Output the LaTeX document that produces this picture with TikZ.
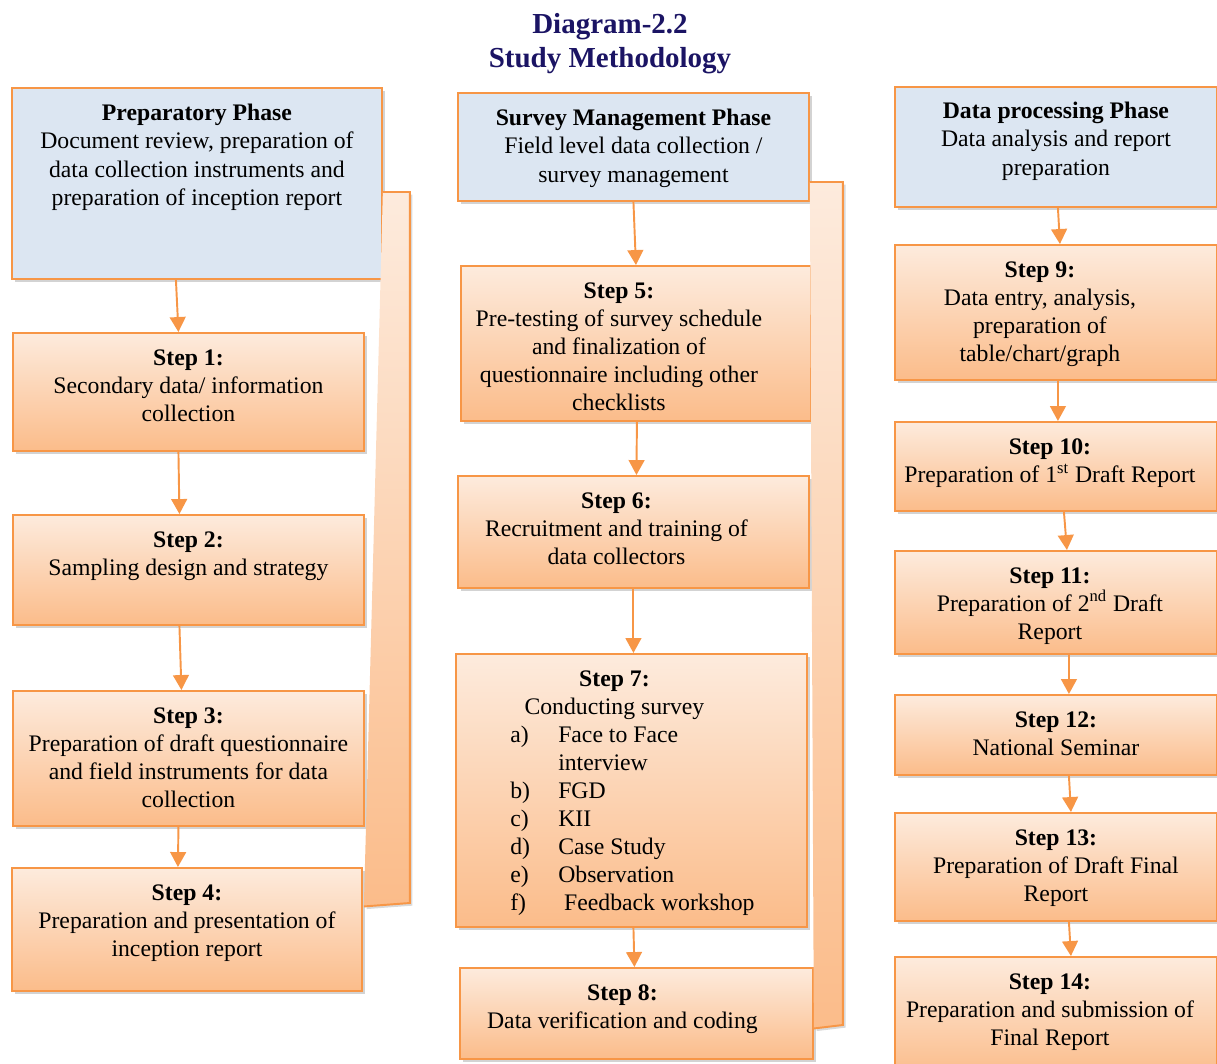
\documentclass[tikz,border=0pt]{standalone}
\usepackage{fontspec}
\setmainfont{Liberation Serif}
\usetikzlibrary{arrows.meta, calc, shadows}

\definecolor{accent}{HTML}{F79646}
\definecolor{steptop}{HTML}{FDEBDD}
\definecolor{stepbottom}{HTML}{FBBC8A}
\definecolor{phasefill}{HTML}{DCE6F2}
\definecolor{titleblue}{HTML}{1B1464}

\begin{document}
\begin{tikzpicture}[
    x=0.02cm, y=-0.02cm,
    % Node styles
    phasebox/.style={
        rectangle,
        draw=accent,
        line width=1.1pt,
        fill=phasefill,
        anchor=north west,
        inner sep=0pt,
        drop shadow={shadow xshift=1.5pt, shadow yshift=-1.5pt, opacity=0.35}
    },
    stepbox/.style={
        rectangle,
        draw=accent,
        line width=1.1pt,
        top color=steptop,
        bottom color=stepbottom,
        anchor=north west,
        inner sep=0pt,
        drop shadow={shadow xshift=1.5pt, shadow yshift=-1.5pt, opacity=0.35}
    },
    boxtext/.style={
        anchor=north,
        inner sep=0pt,
        align=center,
        font=\fontsize{13.5}{16}\selectfont
    },
    titletext/.style={
        align=center,
        text=titleblue,
        font=\fontsize{16.5}{19.5}\selectfont\bfseries
    },
    flow/.style={
        -{Triangle[width=9pt, length=8.5pt]},
        line width=1.1pt,
        accent
    },
    bracket/.style={
        top color=steptop,
        bottom color=stepbottom,
        drop shadow={shadow xshift=1.5pt, shadow yshift=-1.5pt, opacity=0.3}
    },
    bracketline/.style={
        draw=accent,
        line width=1.1pt,
        line join=miter
    }
]
\useasboundingbox (0,0) rectangle (1217,1064);

% === Title ===
\node[titletext] (title) at (610,44) {Diagram-2.2\\Study Methodology};

% === Preparatory Phase (Left) ===
\node[phasebox, minimum width=7.40cm, minimum height=3.82cm] (p1) at (11,87) {};
\node[boxtext] (pt1) at ($(p1.north)+(0,17)$) {\textbf{Preparatory Phase}\\Document review, preparation of\\data collection instruments and\\preparation of inception report};

\node[stepbox, minimum width=7.02cm, minimum height=2.36cm] (s1) at (12,332) {};
\node[boxtext] (t1) at ($(s1.north)+(0,17)$) {\textbf{Step 1:}\\Secondary data/ information\\collection};

\node[stepbox, minimum width=7.02cm, minimum height=2.20cm] (s2) at (12,514) {};
\node[boxtext] (t2) at ($(s2.north)+(0,17)$) {\textbf{Step 2:}\\Sampling design and strategy};

\node[stepbox, minimum width=7.02cm, minimum height=2.70cm] (s3) at (12,690) {};
\node[boxtext] (t3) at ($(s3.north)+(0,17)$) {\textbf{Step 3:}\\Preparation of draft questionnaire\\and field instruments for data\\collection};

\node[stepbox, minimum width=7.00cm, minimum height=2.46cm] (s4) at (11,867) {};
\node[boxtext] (t4) at ($(s4.north)+(0,17)$) {\textbf{Step 4:}\\Preparation and presentation of\\inception report};

% === Survey Management Phase (Center) ===
\node[phasebox, minimum width=7.02cm, minimum height=2.16cm] (p2) at (457,92) {};
\node[boxtext] (pt2) at ($(p2.north)+(0,17)$) {\textbf{Survey Management Phase}\\Field level data collection /\\survey management};

\node[stepbox, minimum width=7.00cm, minimum height=3.10cm] (s5) at (460,265) {};
\node[boxtext] (t5) at ($(s5.north)+(-17,17)$) {\textbf{Step 5:}\\Pre-testing of survey schedule\\and finalization of\\questionnaire including other\\checklists};

\node[stepbox, minimum width=7.02cm, minimum height=2.24cm] (s6) at (457,475) {};
\node[boxtext] (t6) at ($(s6.north)+(-17,17)$) {\textbf{Step 6:}\\Recruitment and training of\\data collectors};

\node[stepbox, minimum width=7.02cm, minimum height=5.46cm] (s7) at (455,653) {};
\node[boxtext] (t7) at ($(s7.north)+(-17,17)$) {\textbf{Step 7:}\\Conducting survey\\
    \hspace*{0.72cm}\begin{tabular}[t]{@{}p{0.96cm}@{}l@{}}
    a) & Face to Face\\
       & interview\\
    b) & FGD\\
    c) & KII\\
    d) & Case Study\\
    e) & Observation\\
    f) & \ Feedback workshop
    \end{tabular}};

\node[stepbox, minimum width=7.06cm, minimum height=1.82cm] (s8) at (459,967) {};
\node[boxtext] (t8) at ($(s8.north)+(-14,17)$) {\textbf{Step 8:}\\Data verification and coding};

% === Data processing Phase (Right) ===
\node[phasebox, minimum width=6.44cm, minimum height=2.40cm] (p3) at (894,86) {};
\node[boxtext] (pt3) at ($(p3.north)+(0,16)$) {\textbf{Data processing Phase}\\Data analysis and report\\preparation};

\node[stepbox, minimum width=6.44cm, minimum height=2.70cm] (s9) at (894,244) {};
\node[boxtext] (t9) at ($(s9.north)+(-16,17)$) {\textbf{Step 9:}\\Data entry, analysis,\\preparation of\\table/chart/graph};

\node[stepbox, minimum width=6.44cm, minimum height=1.78cm] (s10) at (894,421) {};
\node[boxtext] (t10) at ($(s10.north)+(-6,17)$) {\textbf{Step 10:}\\Preparation of 1\textsuperscript{st} Draft Report};

\node[stepbox, minimum width=6.44cm, minimum height=2.06cm] (s11) at (894,550) {};
\node[boxtext] (t11) at ($(s11.north)+(-6,17)$) {\textbf{Step 11:}\\Preparation of 2\textsuperscript{nd} Draft\\Report};

\node[stepbox, minimum width=6.44cm, minimum height=1.60cm] (s12) at (894,694) {};
\node[boxtext] (t12) at ($(s12.north)+(0,17)$) {\textbf{Step 12:}\\National Seminar};

\node[stepbox, minimum width=6.44cm, minimum height=2.16cm] (s13) at (894,812) {};
\node[boxtext] (t13) at ($(s13.north)+(0,17)$) {\textbf{Step 13:}\\Preparation of Draft Final\\Report};

\node[stepbox, minimum width=6.44cm, minimum height=2.40cm] (s14) at (894,956) {};
\node[boxtext] (t14) at ($(s14.north)+(-6,17)$) {\textbf{Step 14:}\\Preparation and submission of\\Final Report};

% === Brackets: phase to last step ===
\path[bracket] ($(p1.north east)+(0,105)$) -- ++(27,0) -- ++(0,711) -- ($(s4.east)+(1,-23)$) -- cycle;
\draw[bracketline] ($(p1.north east)+(0,105)$) -- ++(27,0) -- ++(0,711) -- ($(s4.east)+(1,-23)$);

\path[bracket] ($(p2.north east)+(0,90)$) -- ++(33,0) -- ++(0,843) -- ($(s8.east)+(0,15)$) -- cycle;
\draw[bracketline] ($(p2.north east)+(0,90)$) -- ++(33,0) -- ++(0,843) -- ($(s8.east)+(0,15)$);

% === Arrows: Left column ===
\draw[flow] ($(p1.south)+(-21,0)$) -- ($(s1.north)+(-10,0)$);
\draw[flow] ($(s1.south)+(-10,0)$) -- ($(s2.north)+(-9,0)$);
\draw[flow] ($(s2.south)+(-9,0)$) -- ($(s3.north)+(-7,0)$);
\draw[flow] ($(s3.south)+(-10,0)$) -- ($(s4.north)+(-9,0)$);

% === Arrows: Center column ===
\draw[flow] (p2.south) -- (s5.north);
\draw[flow] ($(s5.south)+(1,0)$) -- ($(s6.north)+(3,0)$);
\draw[flow] (s6.south) -- ($(s7.north)+(2,0)$);
\draw[flow] ($(s7.south)+(2,0)$) -- ($(s8.north)+(-2,0)$);

% === Arrows: Right column ===
\draw[flow] ($(p3.south)+(2,0)$) -- ($(s9.north)+(4,0)$);
\draw[flow] ($(s9.south)+(2,0)$) -- ($(s10.north)+(2,0)$);
\draw[flow] ($(s10.south)+(8,0)$) -- ($(s11.north)+(11,0)$);
\draw[flow] ($(s11.south)+(13,0)$) -- ($(s12.north)+(13,0)$);
\draw[flow] ($(s12.south)+(13,0)$) -- ($(s13.north)+(15,0)$);
\draw[flow] ($(s13.south)+(13,0)$) -- ($(s14.north)+(15,0)$);

\end{tikzpicture}
\end{document}
